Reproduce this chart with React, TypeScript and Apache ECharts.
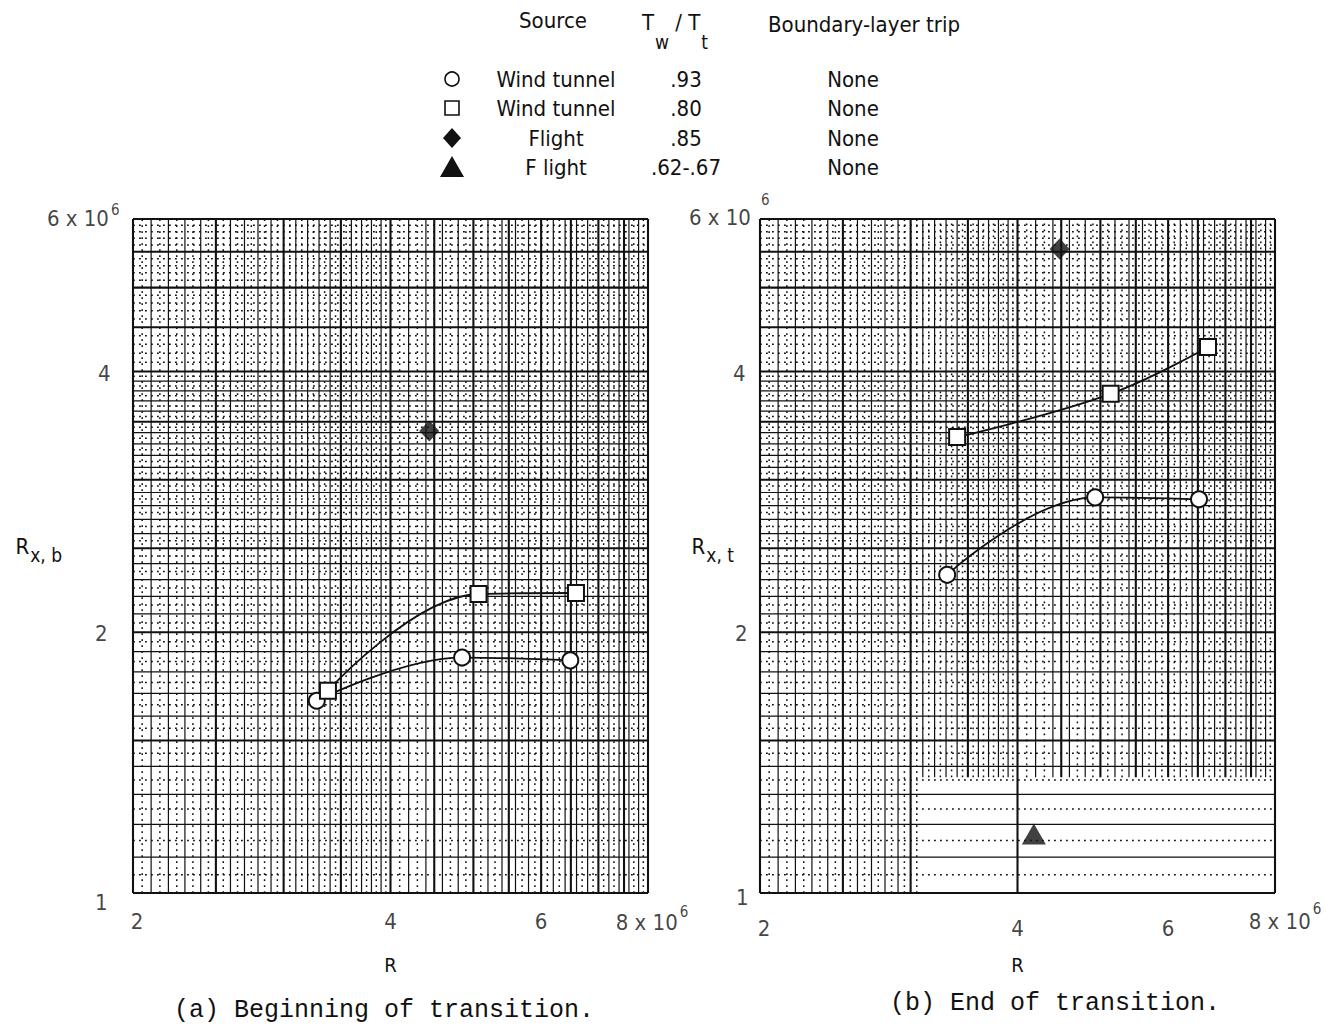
import React, { useEffect, useRef } from "react";
import * as echarts from "echarts";

const FONT = "'Liberation Sans Narrow','DejaVu Sans Condensed','Liberation Sans',sans-serif";
const MONO = "'Liberation Mono','DejaVu Sans Mono',monospace";
const INK = "#111111";

// (a) Beginning of transition: R versus R_x,b
const aCircleR = [3.28, 4.85, 6.49];
const aCircleRx = [1.667, 1.87, 1.856];
const aSquareR = [3.38, 5.07, 6.59];
const aSquareRx = [1.712, 2.214, 2.22];
const aDiamondR = [4.44];
const aDiamondRx = [3.416];

// (b) End of transition: R versus R_x,t
const bCircleR = [3.31, 4.93, 6.52];
const bCircleRx = [2.33, 2.863, 2.848];
const bSquareR = [3.4, 5.14, 6.68];
const bSquareRx = [3.36, 3.77, 4.27];
const bDiamondR = [4.48];
const bDiamondRx = [5.54];
const bTriangleR = [4.18];
const bTriangleRx = [1.17];

// Axis ranges and tick labels
const R_MIN = 2;
const R_MAX = 8;
const RX_MIN = 1;
const RX_MAX = 6;
const xTicks = [2, 4, 6, 8];
const xTickLabels = ["2", "4", "6", "8 x 10{sup|6}"];
const yTicks = [1, 2, 4, 6];
const yTickLabels = ["1", "2", "4", "6 x 10{sup|6}"];

// Key table
const keySource = ["Wind tunnel", "Wind tunnel", "Flight", "F light"];
const keyRatio = [".93", ".80", ".85", ".62-.67"];
const keyTrip = ["None", "None", "None", "None"];

// Panel frames (px)
const GRID_A = { left: 133, top: 219, width: 515, height: 674 };
const GRID_B = { left: 760, top: 219, width: 515, height: 674 };

// Graph-paper rulings: 0 dotted, 1 fine, 2 heavy
function rRulings(): number[][] {
  const out: number[][] = [];
  for (let i = 200; i <= 800; i += 5) {
    let k = -1;
    if (i % 50 === 0) k = 2;
    else if (i < 400) k = i % 10 === 0 ? 1 : 0;
    else if (i % 20 === 0) k = 1;
    else if (i % 10 === 0) k = 0;
    if (k >= 0) out.push([i / 100, k]);
  }
  return out;
}
function rxRulings(): number[][] {
  const out: number[][] = [];
  for (let i = 100; i <= 600; i += 5) {
    let k = -1;
    if (i % 50 === 0) k = 2;
    else if (i < 400) k = i % 10 === 0 ? 1 : 0;
    else if (i % 10 === 0) k = 0;
    if (k >= 0) out.push([i / 100, k]);
  }
  return out;
}

const RULE_STYLE = [
  { lineWidth: 1.5, lineDash: [1.8, 4.2] },
  { lineWidth: 1.2, lineDash: null },
  { lineWidth: 2.1, lineDash: null },
];

function rulingSeries(gi: number, vertical: boolean, faded: boolean) {
  const data = vertical
    ? rRulings().map(([v, k]) => {
        // lower right part of panel (b) is printed without vertical rulings
        const y0 = faded && v > 3.05 && v !== 4 && v !== R_MAX ? 1.36 : RX_MIN;
        return [v, y0, RX_MAX, k];
      })
    : rxRulings().map(([v, k]) => [R_MIN, v, R_MAX, k]);
  return {
    type: "custom",
    xAxisIndex: gi,
    yAxisIndex: gi,
    silent: true,
    z: 1,
    clip: false,
    encode: { x: 0, y: 1 },
    data,
    renderItem: (_p: any, api: any) => {
      const a = api.value(0);
      const b = api.value(1);
      const c = api.value(2);
      const k = api.value(3);
      const p0 = api.coord([a, b]);
      const p1 = vertical ? api.coord([a, c]) : api.coord([c, b]);
      const st = RULE_STYLE[k];
      return {
        type: "line",
        shape: { x1: p0[0], y1: p0[1], x2: p1[0], y2: p1[1] },
        style: { stroke: INK, lineWidth: st.lineWidth, lineDash: st.lineDash },
      };
    },
  };
}

const pairs = (xs: number[], ys: number[]) => xs.map((x, i) => [x, ys[i]]);

function curveSeries(gi: number, data: number[][], symbol: string, size: number) {
  return {
    type: "line",
    xAxisIndex: gi,
    yAxisIndex: gi,
    data,
    smooth: 0.4,
    symbol,
    symbolSize: size,
    z: 5,
    lineStyle: { color: INK, width: 1.8 },
    itemStyle: { color: "#fff", borderColor: INK, borderWidth: 2 },
  };
}

function solidSeries(gi: number, data: number[][], symbol: string, size: number[]) {
  return {
    type: "scatter",
    xAxisIndex: gi,
    yAxisIndex: gi,
    data,
    symbol,
    symbolSize: size,
    z: 6,
    itemStyle: { color: INK },
  };
}

// Tick label placement per panel: [dx, dy] per tick
const X_LABEL_NUDGE = [
  [[4, 0], [0, 0], [0, 0], [4, -6]],
  [[4, 0], [0, 0], [0, 0], [10, -16]],
];
const Y_LABEL_NUDGE = [
  [[-3, 9], [-3, 1], [0, 2], [9, -1]],
  [[3, 4], [2, 1], [0, 2], [24, -2]],
];
const X_LABEL_DIST = [17, 24];
const Y_LABEL_DIST = [22, 14];
const SUP_RAISE_X = [20, 24];
const SUP_RAISE_Y = [16, 34];

function tickLabelSeries(gi: number) {
  const base = { fontFamily: FONT, fontSize: 22, color: INK };
  const xs = {
    type: "scatter",
    xAxisIndex: gi,
    yAxisIndex: gi,
    silent: true,
    symbolSize: 1,
    itemStyle: { color: "rgba(0,0,0,0)" },
    z: 7,
    data: xTicks.map((v, i) => ({
      value: [v, RX_MIN],
      label: { offset: X_LABEL_NUDGE[gi][i] },
    })),
    label: {
      show: true,
      position: "bottom",
      distance: X_LABEL_DIST[gi],
      formatter: (p: any) => xTickLabels[p.dataIndex],
      ...base,
      rich: { sup: { ...base, fontSize: 15, padding: [0, 0, SUP_RAISE_X[gi], 2] } },
    },
  };
  const ys = {
    type: "scatter",
    xAxisIndex: gi,
    yAxisIndex: gi,
    silent: true,
    symbolSize: 1,
    itemStyle: { color: "rgba(0,0,0,0)" },
    z: 7,
    data: yTicks.map((v, i) => ({
      value: [R_MIN, v],
      label: { offset: Y_LABEL_NUDGE[gi][i] },
    })),
    label: {
      show: true,
      position: "left",
      distance: Y_LABEL_DIST[gi],
      formatter: (p: any) => yTickLabels[p.dataIndex],
      ...base,
      rich: { sup: { ...base, fontSize: 15, padding: [0, 0, SUP_RAISE_Y[gi], gi === 1 ? 10 : 2] } },
    },
  };
  return [xs, ys];
}

function axisPair(gi: number, yName: string, yGap: number) {
  const hidden = {
    axisLine: { show: false },
    axisTick: { show: false },
    axisLabel: { show: false },
    splitLine: { show: false },
  };
  return {
    x: {
      type: "log",
      gridIndex: gi,
      min: R_MIN,
      max: R_MAX,
      name: "R",
      nameLocation: "middle",
      nameGap: 62,
      nameTextStyle: { fontFamily: FONT, fontSize: 20, color: INK },
      ...hidden,
    },
    y: {
      type: "log",
      gridIndex: gi,
      min: RX_MIN,
      max: RX_MAX,
      name: yName,
      nameLocation: "middle",
      nameRotate: 0,
      nameGap: yGap,
      nameTextStyle: {
        fontFamily: FONT,
        fontSize: 22,
        color: INK,
        padding: [0, 0, 20, 0],
        rich: { sub: { fontFamily: FONT, fontSize: 19, color: INK, padding: [18, 0, 0, 1] } },
      },
      ...hidden,
    },
  };
}

function keyGraphic() {
  const t = (text: string, x: number, y: number, extra: any = {}) => ({
    type: "text",
    x,
    y,
    silent: true,
    style: {
      text,
      fontFamily: FONT,
      fontSize: 22,
      fill: INK,
      align: "center",
      verticalAlign: "middle",
      ...extra,
    },
  });
  const rows = [79, 108, 138, 167];
  const symX = 452;
  const els: any[] = [
    t("Source", 553, 20),
    t("T{sub|w} / T{sub|t}", 675, 22, {
      rich: { sub: { fontFamily: FONT, fontSize: 19, fill: INK, padding: [40, 0, 0, 1] } },
    }),
    t("Boundary-layer trip", 864, 24),
  ];
  rows.forEach((y, i) => {
    els.push(t(keySource[i], 556, y));
    els.push(t(keyRatio[i], 686, y));
    els.push(t(keyTrip[i], 853, y));
  });
  els.push({
    type: "circle",
    shape: { cx: symX, cy: rows[0], r: 7 },
    style: { fill: "#fff", stroke: INK, lineWidth: 1.6 },
  });
  els.push({
    type: "rect",
    shape: { x: symX - 7, y: rows[1] - 7, width: 14, height: 14 },
    style: { fill: "#fff", stroke: INK, lineWidth: 1.6 },
  });
  els.push({
    type: "polygon",
    shape: {
      points: [
        [symX, rows[2] - 10],
        [symX + 9, rows[2]],
        [symX, rows[2] + 10],
        [symX - 9, rows[2]],
      ],
    },
    style: { fill: INK },
  });
  els.push({
    type: "polygon",
    shape: {
      points: [
        [symX, rows[3] - 11],
        [symX + 12, rows[3] + 10],
        [symX - 12, rows[3] + 10],
      ],
    },
    style: { fill: INK },
  });
  els.push({
    type: "text",
    x: 384,
    y: 1010,
    silent: true,
    style: {
      text: "(a) Beginning of transition.",
      fontFamily: MONO,
      fontSize: 25,
      fill: INK,
      align: "center",
      verticalAlign: "middle",
    },
  });
  els.push({
    type: "text",
    x: 1055,
    y: 1003,
    silent: true,
    style: {
      text: "(b) End of transition.",
      fontFamily: MONO,
      fontSize: 25,
      fill: INK,
      align: "center",
      verticalAlign: "middle",
    },
  });
  return els;
}

function buildOption() {
  const axA = axisPair(0, "R{sub|x, b}", 71);
  const axB = axisPair(1, "R{sub|x, t}", 26);
  return {
    animation: false,
    backgroundColor: "#fff",
    grid: [
      { ...GRID_A, outerBoundsMode: "none", containLabel: false },
      { ...GRID_B, outerBoundsMode: "none", containLabel: false },
    ],
    xAxis: [axA.x, axB.x],
    yAxis: [axA.y, axB.y],
    graphic: keyGraphic(),
    series: [
      rulingSeries(0, true, false),
      rulingSeries(0, false, false),
      rulingSeries(1, true, true),
      rulingSeries(1, false, true),
      curveSeries(0, pairs(aCircleR, aCircleRx), "circle", 16),
      curveSeries(0, pairs(aSquareR, aSquareRx), "rect", 16),
      solidSeries(0, pairs(aDiamondR, aDiamondRx), "diamond", [20, 21]),
      curveSeries(1, pairs(bCircleR, bCircleRx), "circle", 16),
      curveSeries(1, pairs(bSquareR, bSquareRx), "rect", 16),
      solidSeries(1, pairs(bDiamondR, bDiamondRx), "diamond", [20, 21]),
      solidSeries(1, pairs(bTriangleR, bTriangleRx), "triangle", [24, 21]),
      ...tickLabelSeries(0),
      ...tickLabelSeries(1),
    ],
  };
}

export default function App() {
  const ref = useRef<HTMLDivElement>(null);
  useEffect(() => {
    if (!ref.current) return;
    const chart = echarts.init(ref.current, undefined, { renderer: "svg" });
    chart.setOption(buildOption() as any);
    return () => chart.dispose();
  }, []);
  return (
    <div
      ref={ref}
      style={{ position: "fixed", left: 0, top: 0, width: 1326, height: 1026, background: "#fff" }}
    />
  );
}
